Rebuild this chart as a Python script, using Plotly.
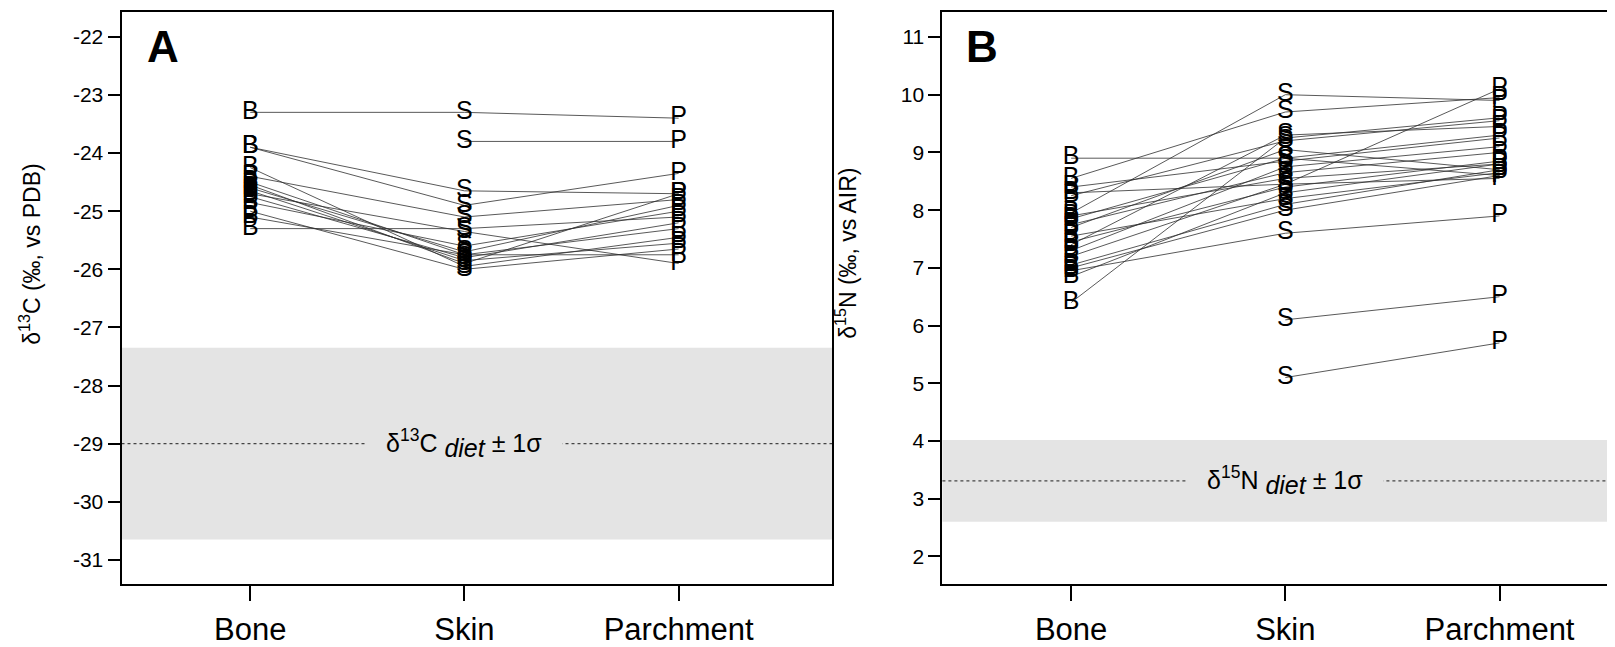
import plotly.graph_objects as go

# The page body has an 8px margin, so the figure sits at (8, 8) in the window.
OFF = 8
FW, FH = 1607, 639

def fx(X):
    return (X - OFF) / FW

def fy(Y):
    return 1 - (Y - OFF) / FH

categories = ["Bone", "Skin", "Parchment"]

# Panel A: delta13C (per mil vs PDB)
c13_bone  = [-23.3, None, -23.9, -23.9, -24.25, -24.4, -24.5, -24.6, -24.65, -24.7, -24.75, -24.85, -25.0, -25.1, -25.3, -24.55]
c13_skin  = [-23.3, -23.8, -24.65, -24.9, -25.95, -25.1, -25.75, -25.7, -25.85, -25.35, -25.8, -25.6, -26.0, -25.75, -25.3, -25.9]
c13_parch = [-23.4, -23.8, -24.7, -24.35, -25.45, -24.8, -25.3, -24.9, -25.55, -25.9, -25.2, -25.0, -25.65, -25.75, -25.1, -24.7]
c13_diet, c13_sd = -29.0, 1.65

# Panel B: delta15N (per mil vs AIR)
n15_bone  = [8.9, 8.55, 8.4, 8.25, 7.95, 7.9, 7.75, 7.7, 7.45, 7.4, 7.3, 7.05, 7.0, 6.95, 6.85, 6.4, 7.2, None, None, 8.3, 7.55, 7.85]
n15_skin  = [8.9, 9.7, 8.85, 9.2, 10.0, 8.55, 8.65, 9.05, 8.4, 9.3, 8.75, 8.1, 8.0, 7.6, 8.3, 9.25, 8.45, 6.1, 5.1, 8.45, 8.2, 8.9]
n15_parch = [8.6, 9.95, 9.25, 9.55, 9.9, 8.8, 9.0, 8.7, 8.85, 9.45, 9.1, 8.7, 8.6, 7.9, 8.8, 9.6, 10.1, 6.5, 5.7, 8.55, 8.65, 9.3]
n15_diet, n15_sd = 3.31, 0.71

c13_ticks = [-22, -23, -24, -25, -26, -27, -28, -29, -30, -31]
c13_ticklabels = ["-22", "-23", "-24", "-25", "-26", "-27", "-28", "-29", "-30", "-31"]
n15_ticks = [11, 10, 9, 8, 7, 6, 5, 4, 3, 2]
n15_ticklabels = ["11", "10", "9", "8", "7", "6", "5", "4", "3", "2"]

FONT = "Liberation Sans, Arial, Helvetica, sans-serif"
BAND = "#e4e4e4"
LINE = "#2e2e2e"

fig = go.Figure()

def add_panel(xa, ya, bone, skin, parch):
    xs = [1, 2, 3]
    for b, s, p in zip(bone, skin, parch):
        fig.add_trace(go.Scatter(x=xs, y=[b, s, p], mode="lines",
                                 line=dict(color=LINE, width=0.8),
                                 xaxis=xa, yaxis=ya, showlegend=False,
                                 hoverinfo="skip"))
    for col, vals, letter in zip(xs, [bone, skin, parch], ["B", "S", "P"]):
        pts = [v for v in vals if v is not None]
        fig.add_trace(go.Scatter(x=[col] * len(pts), y=pts, mode="text",
                                 text=[letter] * len(pts),
                                 textposition="middle center",
                                 textfont=dict(family=FONT, size=25, color="black"),
                                 xaxis=xa, yaxis=ya, showlegend=False,
                                 cliponaxis=False))

add_panel("x", "y", c13_bone, c13_skin, c13_parch)
add_panel("x2", "y2", n15_bone, n15_skin, n15_parch)

ydom = [fy(587.1), fy(12.4)]
axcommon = dict(showgrid=False, zeroline=False, showline=True, linewidth=2,
                linecolor="black", ticks="outside", tickcolor="black",
                tickwidth=1.5)

fig.update_layout(
    width=FW, height=FH, margin=dict(l=0, r=0, t=0, b=0),
    paper_bgcolor="white", plot_bgcolor="white",
    font=dict(family=FONT, color="black"),
    xaxis=dict(domain=[fx(121.5), fx(832)], range=[0.399, 3.716],
               tickvals=[1, 2, 3], ticktext=categories, ticklen=15,
               tickfont=dict(size=31), mirror=True, anchor="y",
               ticklabelstandoff=1, **axcommon),
    yaxis=dict(domain=ydom, range=[-31.42, -21.58], tickvals=c13_ticks,
               ticktext=c13_ticklabels,
               ticklen=12, tickfont=dict(size=21), mirror=True, anchor="x",
               **axcommon),
    xaxis2=dict(domain=[fx(942.4), 1.0], range=[0.399, 3.539],
                tickvals=[1, 2, 3], ticktext=categories, ticklen=15,
                tickfont=dict(size=31), mirror=True, anchor="y2",
                ticklabelstandoff=1, **axcommon),
    yaxis2=dict(domain=ydom, range=[1.517, 11.426], tickvals=n15_ticks,
                ticktext=n15_ticklabels,
                ticklen=12, tickfont=dict(size=21), mirror=False, anchor="x2",
                **axcommon),
)

shapes = []
annots = []
for xr, yr, diet, sd, label in [
        ("x", "y", c13_diet, c13_sd,
         "δ<sup>13</sup>C <sub><span style='font-size:25px'><i>diet</i></span></sub> ± 1σ"),
        ("x2", "y2", n15_diet, n15_sd,
         "δ<sup>15</sup>N <sub><span style='font-size:25px'><i>diet</i></span></sub> ± 1σ")]:
    shapes.append(dict(type="rect", xref=xr + " domain", yref=yr, x0=0, x1=1,
                       y0=diet - sd, y1=diet + sd, fillcolor=BAND,
                       line=dict(width=0), layer="below"))
    shapes.append(dict(type="line", xref=xr + " domain", yref=yr, x0=0, x1=1,
                       y0=diet, y1=diet, line=dict(color="#444", width=1.2, dash="dot"),
                       layer="below"))
    annots.append(dict(xref=xr, yref=yr, x=2, y=diet, text=label,
                       showarrow=False, bgcolor=BAND, borderpad=20,
                       font=dict(size=25, family=FONT)))

annots.append(dict(xref="paper", yref="paper", x=fx(30), y=fy(255),
                   xanchor="center", yanchor="middle",
                   text="δ<sup>13</sup>C (‰, vs PDB)", textangle=-90,
                   showarrow=False, font=dict(size=23, family=FONT)))
annots.append(dict(xref="paper", yref="paper", x=fx(846), y=fy(255),
                   xanchor="center", yanchor="middle",
                   text="δ<sup>15</sup>N (‰, vs AIR)", textangle=-90,
                   showarrow=False, font=dict(size=23, family=FONT)))
annots.append(dict(xref="paper", yref="paper", x=fx(163), y=fy(47),
                   xanchor="center", yanchor="middle",
                   text="<b>A</b>", showarrow=False,
                   font=dict(size=44, family=FONT)))
annots.append(dict(xref="paper", yref="paper", x=fx(982), y=fy(47),
                   xanchor="center", yanchor="middle",
                   text="<b>B</b>", showarrow=False,
                   font=dict(size=44, family=FONT)))

fig.update_layout(shapes=shapes, annotations=annots)
fig.write_html("out.html")
